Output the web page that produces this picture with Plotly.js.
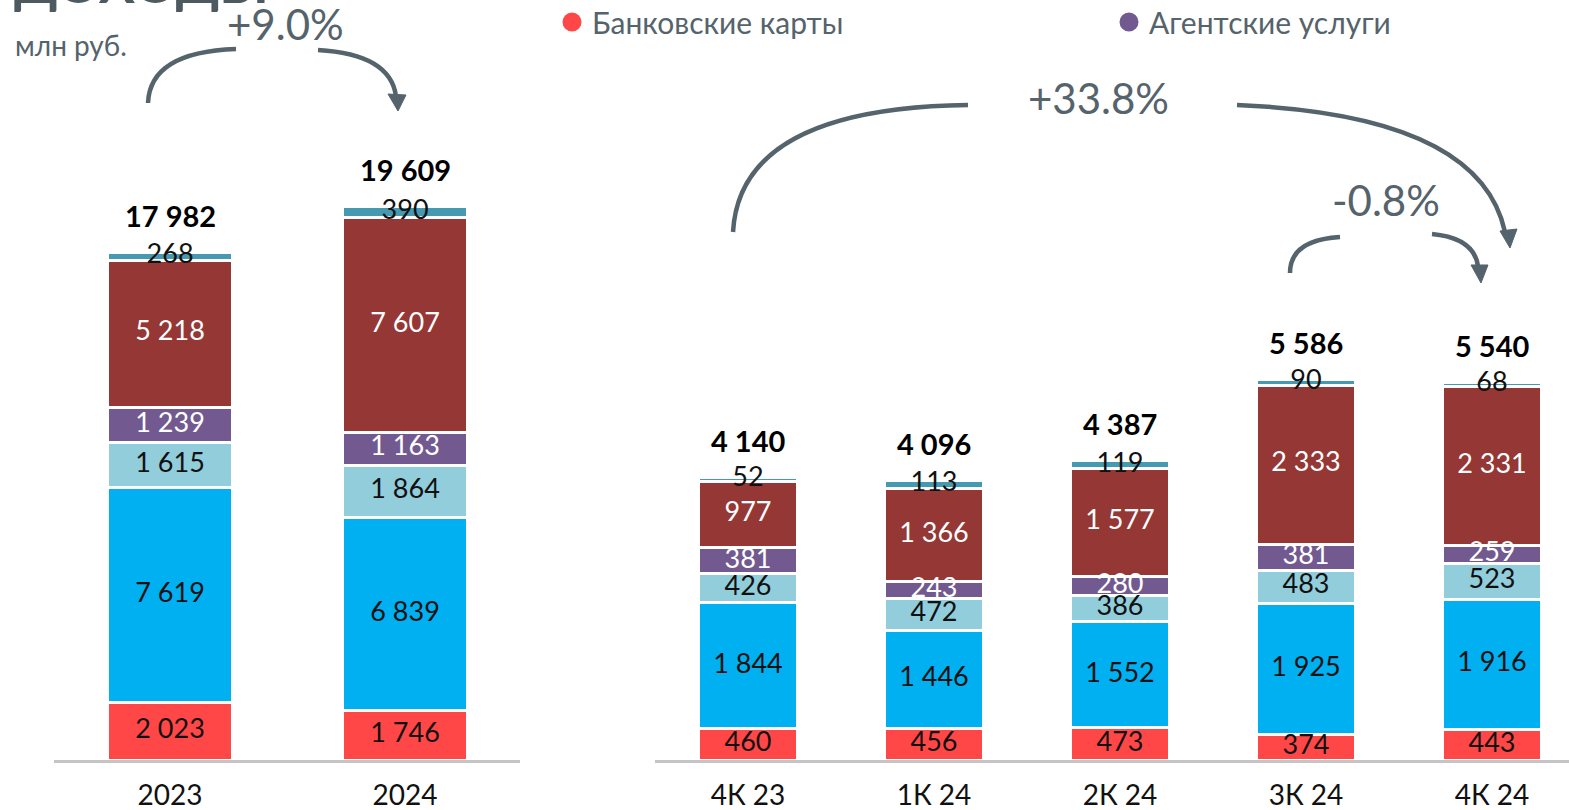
<!DOCTYPE html>
<html><head><meta charset="utf-8">
<script src="https://cdn.plot.ly/plotly-3.0.1.min.js"></script>
<style>html,body{margin:0;padding:0;background:#fff}#chart{width:1569px;height:810px}</style>
</head><body><div id="chart"></div>
<script>
// ---- data ----
const annualCats = ['2023', '2024'];
const quarterCats = ['4К 23', '1К 24', '2К 24', '3К 24', '4К 24'];

const cardsA = [2023, 1746];
const cardsQ = [460, 456, 473, 374, 443];
const blueA = [7619, 6839];
const blueQ = [1844, 1446, 1552, 1925, 1916];
const lightA = [1615, 1864];
const lightQ = [426, 472, 386, 483, 523];
const agentA = [1239, 1163];
const agentQ = [381, 243, 280, 381, 259];
const darkA = [5218, 7607];
const darkQ = [977, 1366, 1577, 2333, 2331];
const tealA = [268, 390];
const tealQ = [52, 113, 119, 90, 68];

const seriesNames = ['Банковские карты', 'Серия 2', 'Серия 3', 'Агентские услуги', 'Серия 5', 'Серия 6'];
const seriesColors = ['#FF4747', '#00B0F0', '#92CDDC', '#725A91', '#953735', '#4599B0'];
const labelColors = ['#111111', '#111111', '#111111', '#ffffff', '#ffffff', '#111111'];

const growthLabels = ['+9.0%', '+33.8%', '-0.8%'];

// ---- helpers ----
const W = 1569, H = 810;
const FONT = 'Lato, "Open Sans", sans-serif';
const GREY = '#55636c';
function fmt(v) { return String(v).replace(/\B(?=(\d{3})+(?!\d))/g, ' '); }
function px(x) { return x / W; }
function py(y) { return 1 - y / H; }
function P(x, y) { return px(x).toFixed(5) + ',' + py(y).toFixed(5); }

const seriesA = [cardsA, blueA, lightA, agentA, darkA, tealA];
const seriesQ = [cardsQ, blueQ, lightQ, agentQ, darkQ, tealQ];

const traces = [];
function addPanel(cats, series, xa, ya, width) {
  const base = cats.map(() => 0);
  series.forEach((vals, i) => {
    traces.push({
      type: 'bar', x: cats, y: vals, xaxis: xa, yaxis: ya,
      width: width,
      marker: { color: seriesColors[i], line: { color: '#ffffff', width: 3 } },
      name: seriesNames[i], showlegend: false, hoverinfo: 'skip'
    });
    const mids = vals.map((v, k) => base[k] + v / 2);
    traces.push({
      type: 'scatter', mode: 'text', x: cats, y: mids, xaxis: xa, yaxis: ya,
      text: vals.map(fmt), textposition: 'middle center',
      textfont: { family: FONT, size: 27, color: labelColors[i] },
      showlegend: false, hoverinfo: 'skip', cliponaxis: false
    });
    vals.forEach((v, k) => base[k] += v);
  });
  return base;
}
const totA = addPanel(annualCats, seriesA, 'x', 'y', 0.53);
const totQ = addPanel(quarterCats, seriesQ, 'x2', 'y2', 0.53);

// legend dummies
[0, 3].forEach(i => {
  traces.push({
    type: 'scatter', mode: 'markers', x: [null], y: [null],
    marker: { color: seriesColors[i], size: 20, symbol: 'circle', line: { color: seriesColors[i], width: 3 } },
    name: seriesNames[i], showlegend: true, hoverinfo: 'skip'
  });
});

const annotations = [];
annualCats.forEach((c, k) => annotations.push({
  x: k, y: totA[k], xref: 'x', yref: 'y', text: '<b>' + fmt(totA[k]) + '</b>',
  showarrow: false, yanchor: 'middle', yshift: 37,
  font: { family: FONT, size: 29, color: '#000' }
}));
quarterCats.forEach((c, k) => annotations.push({
  x: k, y: totQ[k], xref: 'x2', yref: 'y2', text: '<b>' + fmt(totQ[k]) + '</b>',
  showarrow: false, yanchor: 'middle', yshift: 37,
  font: { family: FONT, size: 29, color: '#000' }
}));
// title and unit
annotations.push({ xref: 'paper', yref: 'paper', x: px(12), y: py(17), xanchor: 'left', yanchor: 'bottom',
  text: '<b>ДОХОДЫ</b>', showarrow: false, font: { family: FONT, size: 54, color: '#4d5a62' } });
annotations.push({ xref: 'paper', yref: 'paper', x: px(13), y: py(45), xanchor: 'left', yanchor: 'middle',
  text: 'млн руб.', showarrow: false, font: { family: FONT, size: 28, color: GREY } });
// growth labels
const growthPos = [[285, 24], [1098, 98], [1386, 200]];
growthLabels.forEach((t, i) => annotations.push({ xref: 'paper', yref: 'paper',
  x: px(growthPos[i][0]), y: py(growthPos[i][1]), xanchor: 'center', yanchor: 'middle',
  text: t, showarrow: false, font: { family: FONT, size: 42, color: GREY } }));

// curved arrows
const shapes = [];
function curve(x0, y0, cx, cy, x1, y1) {
  shapes.push({ type: 'path', xref: 'paper', yref: 'paper',
    path: 'M' + P(x0, y0) + ' Q' + P(cx, cy) + ' ' + P(x1, y1),
    line: { color: GREY, width: 4.5 }, fillcolor: 'rgba(0,0,0,0)' });
}
function head(tx, ty, ax, ay, bx, by) {
  shapes.push({ type: 'path', xref: 'paper', yref: 'paper',
    path: 'M' + P(tx, ty) + ' L' + P(ax, ay) + ' L' + P(bx, by) + ' Z',
    line: { color: GREY, width: 1 }, fillcolor: GREY });
}
curve(148, 103, 150, 52, 236, 49);
curve(318, 50, 390, 54, 396, 96);
head(398, 111, 388, 94, 406, 95);

curve(733, 232, 740, 108, 968, 105);
curve(1237, 105, 1480, 115, 1505, 232);
head(1510, 248, 1500, 231, 1517, 229);

curve(1290, 273, 1290, 240, 1340, 237);
curve(1432, 234, 1474, 238, 1478, 266);
head(1481, 283, 1471, 265, 1488, 265);

const layout = {
  width: W, height: H,
  margin: { l: 0, r: 0, t: 0, b: 0, autoexpand: false },
  paper_bgcolor: '#fff', plot_bgcolor: 'rgba(0,0,0,0)',
  barmode: 'stack',
  showlegend: true,
  legend: { orientation: 'h', x: px(552), y: py(-4), xanchor: 'left', yanchor: 'top',
    traceorder: 'normal',
    font: { family: FONT, size: 30, color: GREY }, entrywidth: 512, entrywidthmode: 'pixels',
    bgcolor: 'rgba(0,0,0,0)', itemclick: false },
  xaxis: { domain: [px(54), px(520)], range: [-0.494, 1.489], type: 'category', anchor: 'y',
    showline: true, linecolor: '#c4c4c4', linewidth: 3, ticks: '', showgrid: false, zeroline: false,
    ticklabelstandoff: 8, tickfont: { family: FONT, size: 28, color: '#111' }, fixedrange: true },
  yaxis: { domain: [py(760), 1], range: [0, 26930], visible: false, anchor: 'x', fixedrange: true },
  xaxis2: { domain: [px(655), 1], range: [-0.5, 4.414], type: 'category', anchor: 'y2',
    showline: true, linecolor: '#c4c4c4', linewidth: 3, ticks: '', showgrid: false, zeroline: false,
    ticklabelstandoff: 8, tickfont: { family: FONT, size: 28, color: '#111' }, fixedrange: true },
  yaxis2: { domain: [py(760), 1], range: [0, 11144], visible: false, anchor: 'x2', fixedrange: true },
  annotations: annotations,
  shapes: shapes
};
Plotly.newPlot('chart', traces, layout, { displayModeBar: false, staticPlot: true });
</script>
</body></html>
